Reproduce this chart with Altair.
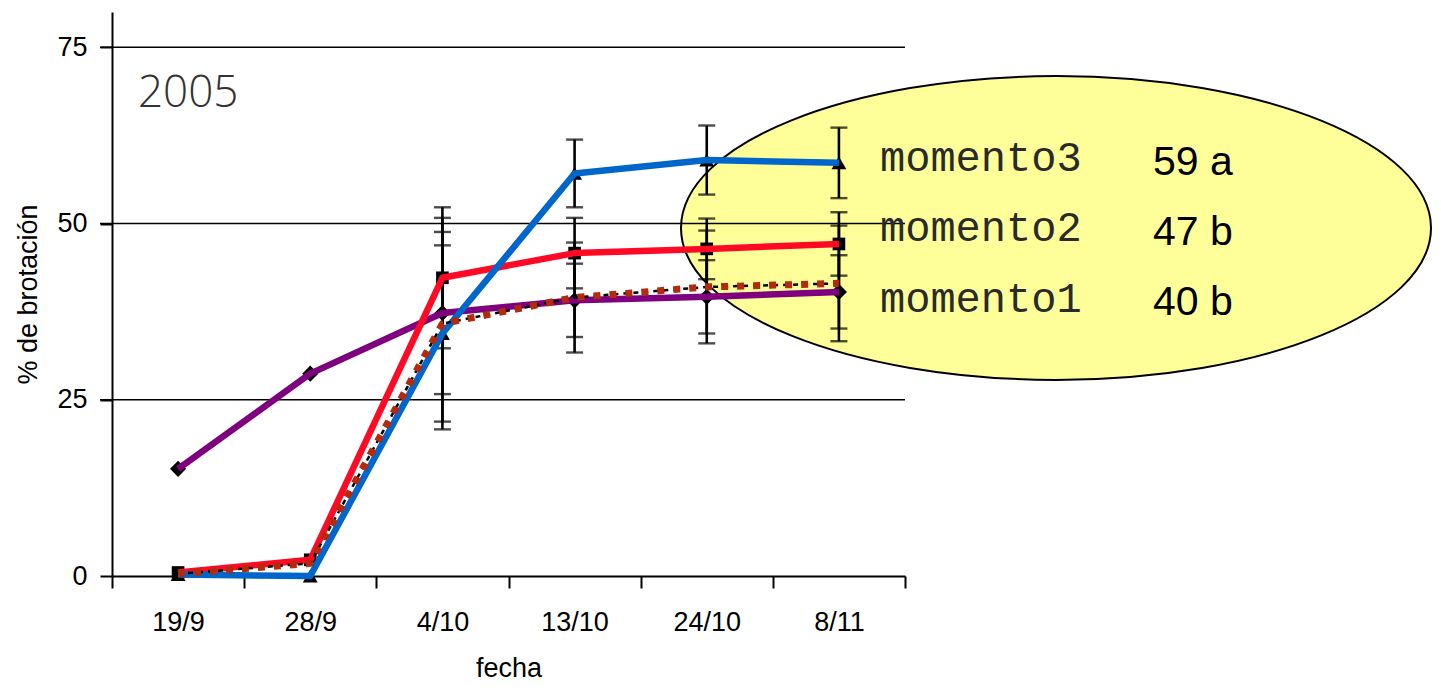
import altair as alt
import pandas as pd

# ---- data ----
fechas = ["19/9", "28/9", "4/10", "13/10", "24/10", "8/11"]

momento1 = [15.2, 28.7, 37.3, 39.1, 39.6, 40.3]   # purple, diamonds
momento2 = [0.5, 2.3, 42.3, 45.8, 46.4, 47.1]     # red, squares
momento3 = [0.2, 0.0, 34.4, 57.1, 59.0, 58.6]     # blue, triangles
testigo = [0.3, 1.8, 35.8, 39.5, 41.0, 41.5]      # brown dotted

err1 = [0, 0, 11.5, 5.2, 5.2, 5.2]
err2 = [0, 0, 10.0, 5.0, 4.3, 4.5]
err3 = [0, 0, 12.5, 4.8, 4.9, 5.0]
errT = [0, 0, 15.0, 7.8, 8.0, 8.2]

legend_names = ["momento3", "momento2", "momento1"]
legend_results = ["59 a", "47 b", "40 b"]

y_ticks = [0, 25, 50, 75]
grid_vals = [25, 50, 75]

series = [
    ("momento1", momento1, err1),
    ("momento2", momento2, err2),
    ("momento3", momento3, err3),
    ("testigo", testigo, errT),
]
rows = []
for name, vals, errs in series:
    for f, v, e in zip(fechas, vals, errs):
        rows.append({"serie": name, "fecha": f, "valor": v, "err": e,
                     "lo": v - e, "hi": v + e})
df = pd.DataFrame(rows)

FONT = "Liberation Sans"
W, H = 793, 564

x_enc = alt.X(
    "fecha:N", sort=fechas,
    scale=alt.Scale(type="band", paddingInner=0, paddingOuter=0),
    axis=alt.Axis(title="fecha", titleFont=FONT, titleFontSize=27,
                  titleFontWeight="normal", titleColor="black", titlePadding=20,
                  labelFont=FONT, labelFontSize=27, labelColor="black",
                  labelAngle=0, labelPadding=21, tickBand="extent",
                  tickSize=12, tickWidth=2, tickColor="black",
                  domainColor="black", domainWidth=2, grid=False),
)
y_scale = alt.Scale(domain=[0, 80], nice=False)
y_axis = alt.Axis(values=y_ticks, title="% de brotación", titleFont=FONT,
                  titleFontSize=27, titleFontWeight="normal", titleColor="black",
                  titlePadding=14, labelFont=FONT, labelFontSize=27,
                  labelColor="black", labelPadding=13, tickSize=12,
                  tickWidth=2, tickColor="black", domainColor="black",
                  domainWidth=2, grid=False)

base = alt.Chart(df)

# yellow ellipse (legend background)
ellipse_path = "M -1 0 A 1 0.405 0 1 1 1 0 A 1 0.405 0 1 1 -1 0 Z"
ellipse = alt.Chart(pd.DataFrame({"k": [0]})).mark_point(
    shape=ellipse_path, size=750 * 750, filled=True, fill="#FFFF99",
    fillOpacity=1, opacity=1, stroke="black", strokeWidth=2,
).encode(x=alt.value(944), y=alt.value(216))

grid = alt.Chart(pd.DataFrame({"g": grid_vals})).mark_rule(
    color="black", strokeWidth=1.7
).encode(y=alt.Y("g:Q", scale=y_scale, axis=y_axis),
         x=alt.value(-12), x2=alt.value(W))

eb = base.transform_filter("datum.err > 0")
err_rule = eb.mark_rule(color="black", strokeWidth=2.6).encode(
    x=x_enc, y=alt.Y("lo:Q", scale=y_scale, axis=y_axis), y2="hi:Q")
cap_lo = eb.mark_tick(color="black", thickness=2.4, size=17, orient="horizontal").encode(
    x=x_enc, y=alt.Y("lo:Q", scale=y_scale))
cap_hi = eb.mark_tick(color="black", thickness=2.4, size=17, orient="horizontal").encode(
    x=x_enc, y=alt.Y("hi:Q", scale=y_scale))


def markers(name, shape, size):
    return base.transform_filter(alt.datum.serie == name).mark_point(
        shape=shape, size=size, filled=True, color="black", opacity=1
    ).encode(x=x_enc, y=alt.Y("valor:Q", scale=y_scale))


def line(name, color, width, dash=None):
    kw = dict(color=color, strokeWidth=width, strokeJoin="round")
    if dash:
        kw["strokeDash"] = dash
    return base.transform_filter(alt.datum.serie == name).mark_line(**kw).encode(
        x=x_enc, y=alt.Y("valor:Q", scale=y_scale))


mk = [
    markers("momento1", "diamond", 260),
    markers("momento2", "square", 160),
    markers("momento3", "triangle-up", 220),
]
lines = [
    line("momento1", "#7F007F", 6.5),
    line("momento2", "#FF0A25", 6.5),
    line("momento3", "#0066CC", 6.5),
    line("testigo", "black", 2.5, [5, 5]),
    line("testigo", "#B42A0C", 7, [7, 9]),
]

year = alt.Chart(pd.DataFrame({"t": ["2005"]})).mark_text(
    font="Open Sans", fontWeight=300, fontSize=44, color="#333",
    align="left", baseline="alphabetic"
).encode(x=alt.value(26), y=alt.value(95), text="t:N")

legend_layers = []
name_y = [159, 229, 300]
res_y = [163, 233, 303]
for i, (n, r) in enumerate(zip(legend_names, legend_results)):
    legend_layers.append(
        alt.Chart(pd.DataFrame({"t": [n]})).mark_text(
            font="Liberation Mono", fontSize=42, color="#2a2a2a",
            align="left", baseline="alphabetic"
        ).encode(x=alt.value(768), y=alt.value(name_y[i]), text="t:N"))
    legend_layers.append(
        alt.Chart(pd.DataFrame({"t": [r]})).mark_text(
            font=FONT, fontSize=41, color="black",
            align="left", baseline="alphabetic"
        ).encode(x=alt.value(1041), y=alt.value(res_y[i]), text="t:N"))

chart = alt.layer(
    ellipse, grid, err_rule, cap_lo, cap_hi, *mk, *lines, year, *legend_layers
).properties(
    width=W, height=H,
    padding={"left": 104, "top": 4, "right": 528, "bottom": 105},
    autosize="none",
).configure_view(stroke=None)

chart.save("out.html", embed_options={"renderer": "svg", "actions": False})
